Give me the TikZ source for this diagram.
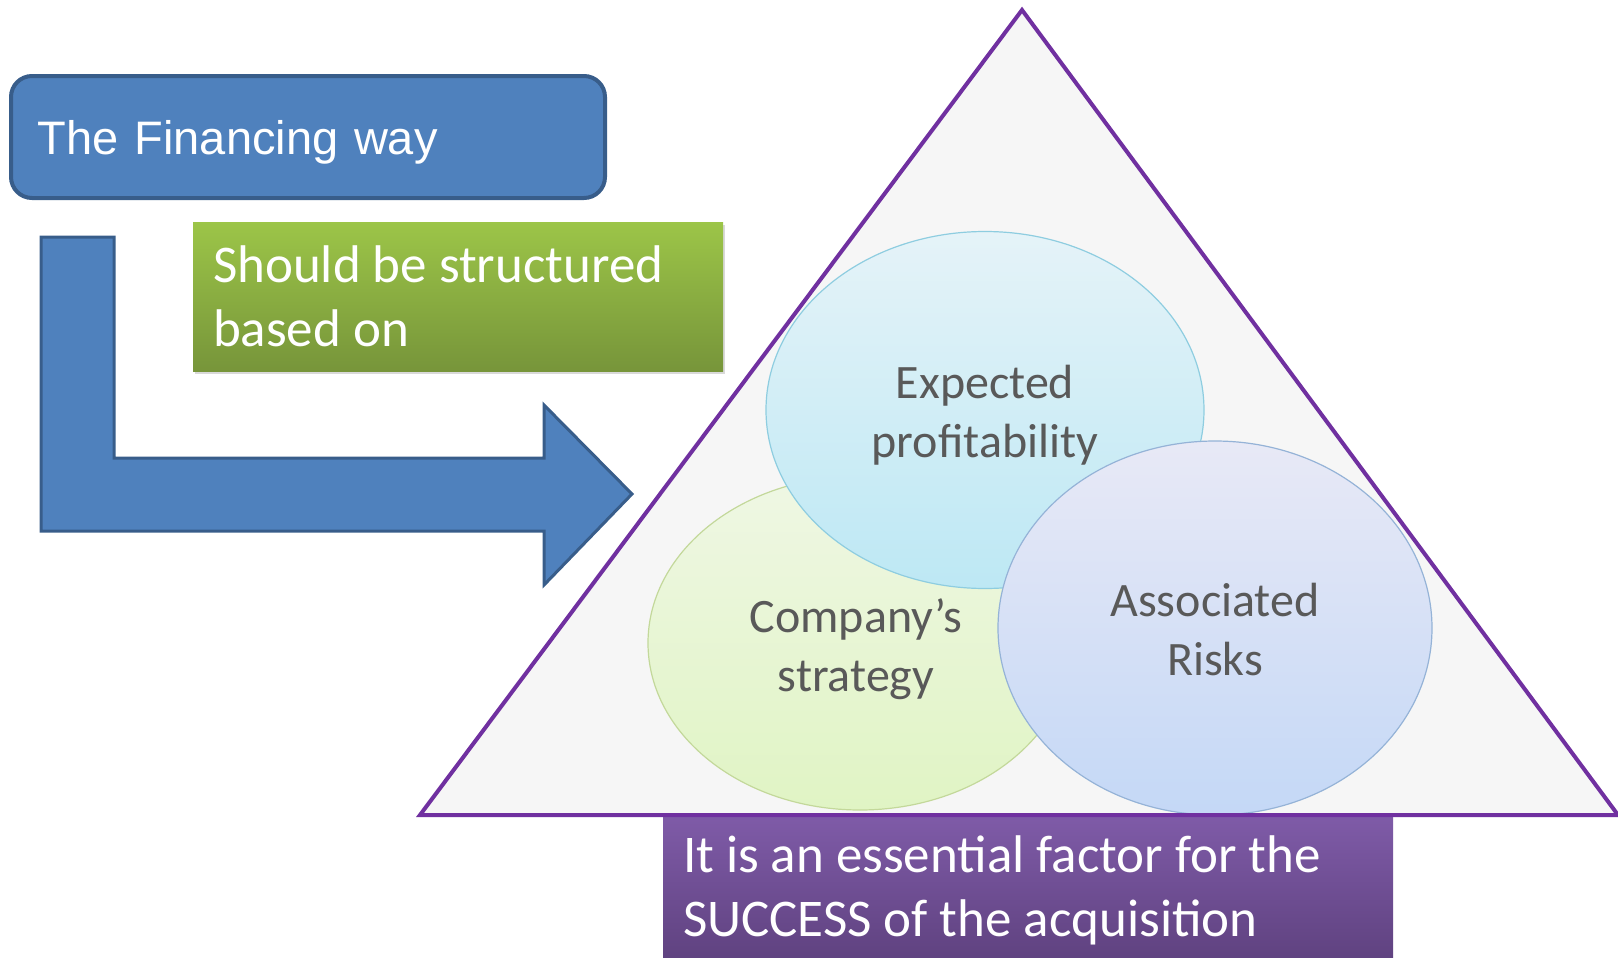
\documentclass[tikz,border=0pt]{standalone}
\usepackage{fontspec}
\setmainfont{Carlito}
\newfontfamily\arialfont{Liberation Sans}
\usetikzlibrary{shapes.geometric,shadows}
\definecolor{finblue}{HTML}{4F81BD}
\definecolor{finborder}{HTML}{385D8A}
\definecolor{greentop}{HTML}{9CC548}
\definecolor{greenbot}{HTML}{77953A}
\definecolor{purptop}{HTML}{7F5BA8}
\definecolor{purpbot}{HTML}{5E417E}
\definecolor{trifill}{HTML}{F6F6F6}
\definecolor{triline}{HTML}{7030A0}
\definecolor{bubbletext}{HTML}{595959}
\definecolor{strattop}{HTML}{EFF7E4}
\definecolor{stratbot}{HTML}{E0F4C4}
\definecolor{stratline}{HTML}{C3D89A}
\definecolor{profittop}{HTML}{E5F3F8}
\definecolor{profitbot}{HTML}{BDE8F4}
\definecolor{profitline}{HTML}{8ECDE0}
\definecolor{riskstop}{HTML}{E8E9F6}
\definecolor{risksbot}{HTML}{C4D8F6}
\definecolor{risksline}{HTML}{95B3D7}

\begin{document}
\begin{tikzpicture}[x=0.5pt, y=-0.5pt,
  finbox/.style={rectangle, draw=finborder, line width=2pt, fill=finblue, rounded corners=10.5pt,
    text=white, align=left, inner sep=0pt, inner xsep=13.5pt, text width=270pt, minimum height=61pt,
    text depth=0pt, font=\arialfont\fontsize{23.5}{28}\selectfont},
  textbox/.style={rectangle, inner sep=0pt, inner xsep=10pt, align=flush left, text=white,
    font=\fontsize{26.5}{32}\selectfont},
  bubble/.style={ellipse, draw, line width=0.6pt, inner sep=0pt},
  bubbletext/.style={align=center, text=bubbletext, font=\fontsize{24}{29.5}\selectfont}]
  \useasboundingbox (0,0) rectangle (1618,958);

  \coordinate (apex) at (1022,10);
  \coordinate (tl) at (420,815);
  \coordinate (tr) at (1618,815);
  \fill[trifill] (apex) -- (tl) -- (tr) -- cycle;

  \filldraw[fill=finblue, draw=finborder, line width=1.5pt]
    (41,237) -- (114,237) -- (114,458) -- (544,458) -- (544,405) -- (632,494)
    -- (544,585) -- (544,531) -- (41,531) -- cycle;

  \node[finbox] (fin) at (308,137) {The Financing way};
  \node[textbox, text width=245pt, minimum height=74.5pt, top color=greentop, bottom color=greenbot,
    drop shadow={shadow xshift=1pt, shadow yshift=-1.5pt, opacity=0.3}] (based) at (458,296.5)
    {Should be structured\\based on};

  \node[bubble, minimum width=212pt, minimum height=167pt, draw=stratline,
    top color=strattop, bottom color=stratbot] (strategy) at (860,643) {};
  \node[bubble, minimum width=219pt, minimum height=178.5pt, draw=profitline,
    top color=profittop, bottom color=profitbot] (profit) at (985,410) {};
  \node[bubble, minimum width=217pt, minimum height=187pt, draw=risksline,
    top color=riskstop, bottom color=risksbot] (risks) at (1215,628) {};
  \node[bubbletext] (strategytext) at ([xshift=-2pt, yshift=-3pt]strategy.center) {Company's\\strategy};
  \node[bubbletext] (profittext) at ([yshift=-2.5pt]profit.center) {Expected\\profitability};
  \node[bubbletext] (riskstext) at ([yshift=-0.8pt]risks.center) {Associated\\Risks};

  \node[textbox, text width=345pt, minimum height=75.5pt, top color=purptop, bottom color=purpbot]
    (success) at (1028,890.5) {It is an essential factor for the\\SUCCESS of the acquisition};

  \draw[triline, line width=2pt] (apex) -- (tl) -- (tr) -- cycle;
\end{tikzpicture}
\end{document}
